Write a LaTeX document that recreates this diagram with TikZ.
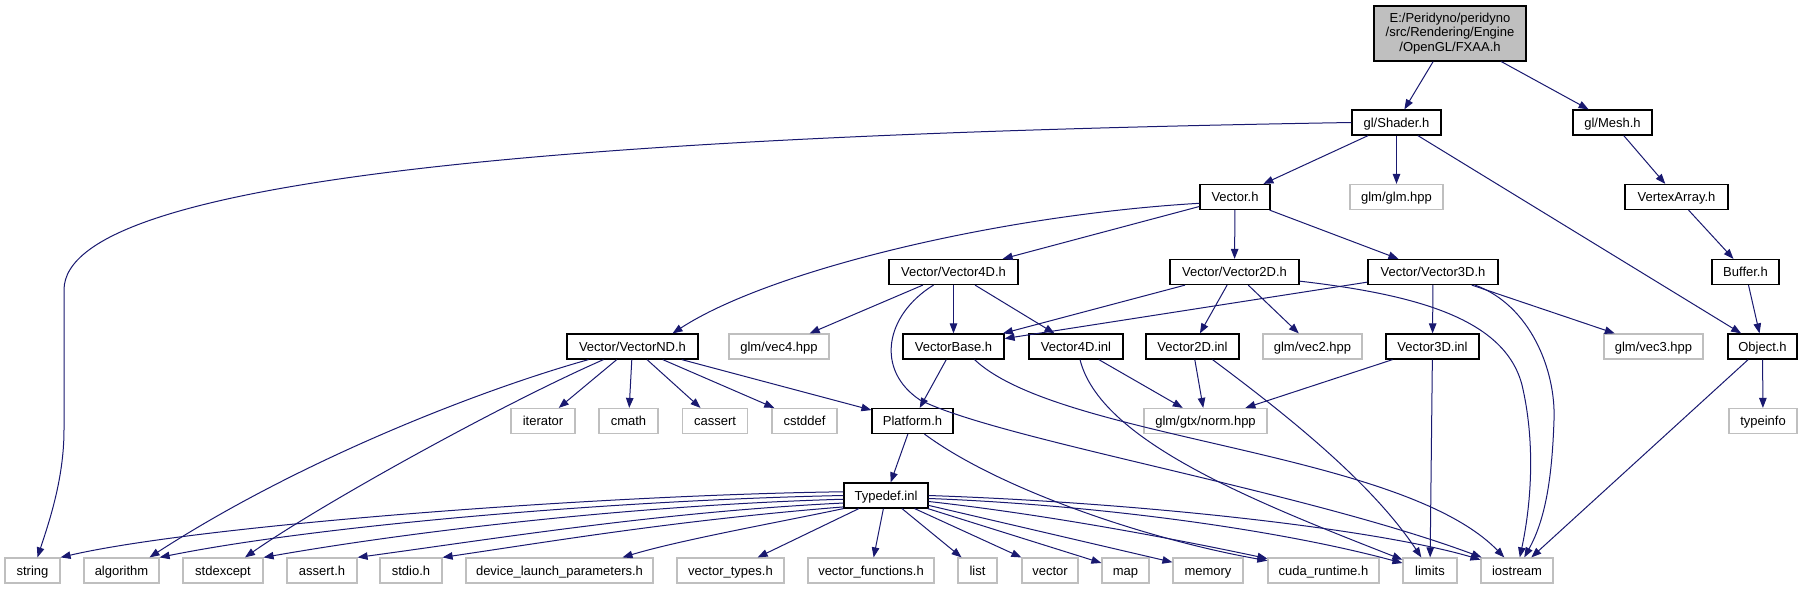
\documentclass[tikz,border=0pt]{standalone}
\usepackage{fontspec}
\setmainfont{Liberation Sans}
\usetikzlibrary{arrows.meta}
\definecolor{edgeblue}{HTML}{191970}
\definecolor{extgrey}{HTML}{BFBFBF}
\begin{document}
\begin{tikzpicture}[x=1pt,y=-1pt,
  every node/.style={font=\fontsize{13}{14.5}\selectfont, inner sep=0pt, text height=12pt, text depth=3pt},
  doc/.style={draw=black, line width=1.2pt, fill=white, minimum height=25pt},
  ext/.style={draw=extgrey, line width=1.2pt, fill=white, minimum height=25pt},
  top/.style={draw=black, line width=1.2pt, fill=extgrey, minimum height=55pt, minimum width=152pt, align=center, text height=, text depth=},
  e/.style={draw=edgeblue, line width=1pt, -{Triangle[length=10pt,width=7.5pt]}},
]
\fill[white] (0,0) rectangle (1804,589);
\useasboundingbox (0,0) rectangle (1804,589);

% row 0
\node[top] (fxaa) at (1450,33.5) {E:/Peridyno/peridyno\\/src/Rendering/Engine\\/OpenGL/FXAA.h};
% row 1
\node[doc, minimum width=89pt] (shader) at (1396.5,122.5) {gl/Shader.h};
\node[doc, minimum width=79pt] (mesh) at (1612.5,122.5) {gl/Mesh.h};
% row 2
\node[doc, minimum width=70pt] (vector) at (1235,197) {Vector.h};
\node[ext, minimum width=93pt] (glmhpp) at (1396.5,197) {glm/glm.hpp};
\node[doc, minimum width=103pt] (vertexarray) at (1676.5,197) {VertexArray.h};
% row 3
\node[doc, minimum width=129pt] (v4d) at (953.5,272) {Vector/Vector4D.h};
\node[doc, minimum width=129pt] (v2d) at (1234.5,272) {Vector/Vector2D.h};
\node[doc, minimum width=130pt] (v3d) at (1433,272) {Vector/Vector3D.h};
\node[doc, minimum width=67pt] (buffer) at (1745.5,272) {Buffer.h};
% row 4
\node[doc, minimum width=131pt] (vnd) at (632.5,346.5) {Vector/VectorND.h};
\node[ext, minimum width=100pt] (vec4) at (779,346.5) {glm/vec4.hpp};
\node[doc, minimum width=101pt] (vbase) at (953.5,346.5) {VectorBase.h};
\node[doc, minimum width=94pt] (v4inl) at (1076,346.5) {Vector4D.inl};
\node[doc, minimum width=93pt] (v2inl) at (1192.5,346.5) {Vector2D.inl};
\node[ext, minimum width=99pt] (vec2) at (1312.5,346.5) {glm/vec2.hpp};
\node[doc, minimum width=93pt] (v3inl) at (1432.5,346.5) {Vector3D.inl};
\node[ext, minimum width=99pt] (vec3) at (1653.5,346.5) {glm/vec3.hpp};
\node[doc, minimum width=69pt] (object) at (1762.5,346.5) {Object.h};
% row 5
\node[ext, minimum width=64pt] (iterator) at (543,421) {iterator};
\node[ext, minimum width=59pt] (cmath) at (628.5,421) {cmath};
\node[ext, minimum width=65pt] (cassert) at (715,421) {cassert};
\node[ext, minimum width=65pt] (cstddef) at (804.5,421) {cstddef};
\node[doc, minimum width=81pt] (platform) at (912.5,421) {Platform.h};
\node[ext, minimum width=123pt] (norm) at (1205.5,421) {glm/gtx/norm.hpp};
\node[ext, minimum width=68pt] (typeinfo) at (1763,421) {typeinfo};
% row 6
\node[doc, minimum width=84pt] (typedef) at (886,495.5) {Typedef.inl};
% row 7
\node[ext, minimum width=55pt] (string) at (32.5,570.5) {string};
\node[ext, minimum width=75pt] (algorithm) at (121.5,570.5) {algorithm};
\node[ext, minimum width=80pt] (stdexcept) at (223,570.5) {stdexcept};
\node[ext, minimum width=70pt] (asserth) at (322,570.5) {assert.h};
\node[ext, minimum width=62pt] (stdioh) at (411,570.5) {stdio.h};
\node[ext, minimum width=187pt] (device) at (559.5,570.5) {device\_launch\_parameters.h};
\node[ext, minimum width=107pt] (vtypes) at (730.5,570.5) {vector\_types.h};
\node[ext, minimum width=126pt] (vfuncs) at (871,570.5) {vector\_functions.h};
\node[ext, minimum width=39pt] (list) at (977.5,570.5) {list};
\node[ext, minimum width=56pt] (vectorn) at (1050,570.5) {vector};
\node[ext, minimum width=47pt] (map) at (1125.5,570.5) {map};
\node[ext, minimum width=70pt] (memory) at (1208,570.5) {memory};
\node[ext, minimum width=111pt] (cuda) at (1323.5,570.5) {cuda\_runtime.h};
\node[ext, minimum width=54pt] (limits) at (1430,570.5) {limits};
\node[ext, minimum width=72pt] (iostream) at (1517,570.5) {iostream};

% edges
\draw[e] (fxaa) -- (shader);
\draw[e] (fxaa) -- (mesh);
\draw[e] (shader.west) .. controls (600,135) and (64,175) .. (64,290) -- (64,430) .. controls (64,480) and (48,525) .. ([xshift=5pt]string.north);
\draw[e] (shader) -- (vector);
\draw[e] (shader) -- (glmhpp);
\draw[e] (shader) -- (object);
\draw[e] (mesh) -- (vertexarray);
\draw[e] (vertexarray) -- (buffer);
\draw[e] (buffer) -- (object);

\draw[e] (vector.190) .. controls (1000,215) and (770,270) .. ([xshift=40pt]vnd.north);
\draw[e] (vector) -- (v4d);
\draw[e] (vector) -- (v2d);
\draw[e] (vector) -- (v3d);

\draw[e] (v4d) -- (vec4);
\draw[e] (v4d) -- (vbase);
\draw[e] (v4d) -- (v4inl);
\draw[e] ([xshift=-20pt]v4d.south) .. controls (885,315) and (875,370) .. (920,400) .. controls (1000,440) and (1300,490) .. (iostream);

\draw[e] (v2d) -- (vbase);
\draw[e] (v2d) -- (v2inl);
\draw[e] (v2d) -- (vec2);
\draw[e] (v2d.-8) .. controls (1420,295) and (1505,320) .. (1522,385) .. controls (1535,440) and (1532,500) .. (iostream);

\draw[e] (v3d) -- (vbase);
\draw[e] (v3d) -- (v3inl);
\draw[e] (v3d) -- (vec3);
\draw[e] ([xshift=42pt]v3d.south) .. controls (1530,305) and (1556,370) .. (1554,420) .. controls (1552,480) and (1545,520) .. (iostream);

\draw[e] ([xshift=-44pt]vnd.south) .. controls (480,390) and (300,460) .. ([xshift=28pt]algorithm.north);
\draw[e] ([xshift=-29pt]vnd.south) .. controls (500,405) and (320,505) .. ([xshift=22pt]stdexcept.north);
\draw[e] (vnd) -- (iterator);
\draw[e] (vnd) -- (cmath);
\draw[e] (vnd) -- (cassert);
\draw[e] (vnd) -- (cstddef);
\draw[e] (vnd) -- (platform);

\draw[e] (vbase) -- (platform);
\draw[e] ([xshift=21pt]vbase.south) .. controls (1060,440) and (1400,450) .. (iostream);

\draw[e] (v4inl) -- (norm);
\draw[e] ([xshift=4pt]v4inl.south) .. controls (1100,440) and (1250,500) .. (limits);
\draw[e] (v2inl) -- (norm);
\draw[e] ([xshift=20pt]v2inl.south) .. controls (1280,410) and (1370,480) .. (limits);
\draw[e] (v3inl) -- (norm);
\draw[e] (v3inl) -- (limits);

\draw[e] (object) -- (typeinfo);
\draw[e] (object) -- (iostream);

\draw[e] (platform) -- (typedef);
\draw[e] ([xshift=12pt]platform.south) .. controls (1000,490) and (1150,540) .. (cuda);

\draw[e] (typedef.175) .. controls (600,495) and (200,525) .. (string.north east);
\draw[e] (typedef.180) .. controls (620,500) and (320,525) .. (algorithm.north east);
\draw[e] (typedef.185) .. controls (640,505) and (420,530) .. (stdexcept.north east);
\draw[e] (typedef.190) .. controls (660,512) and (500,538) .. (asserth.north east);
\draw[e] (typedef.195) .. controls (680,520) and (560,540) .. (stdioh.north east);
\draw[e] (typedef.south west) .. controls (780,522) and (680,540) .. ([xshift=63pt]device.north);
\draw[e] (typedef) -- (vtypes);
\draw[e] (typedef) -- (vfuncs);
\draw[e] (typedef) -- (list);
\draw[e] (typedef) -- (vectorn);
\draw[e] (typedef) -- (map);
\draw[e] (typedef) -- (memory);
\draw[e] (typedef.-8) .. controls (1050,515) and (1180,540) .. (cuda);
\draw[e] (typedef.-4) .. controls (1100,505) and (1280,530) .. (limits);
\draw[e] (typedef.0) .. controls (1150,503) and (1380,530) .. (iostream);
\end{tikzpicture}
\end{document}
